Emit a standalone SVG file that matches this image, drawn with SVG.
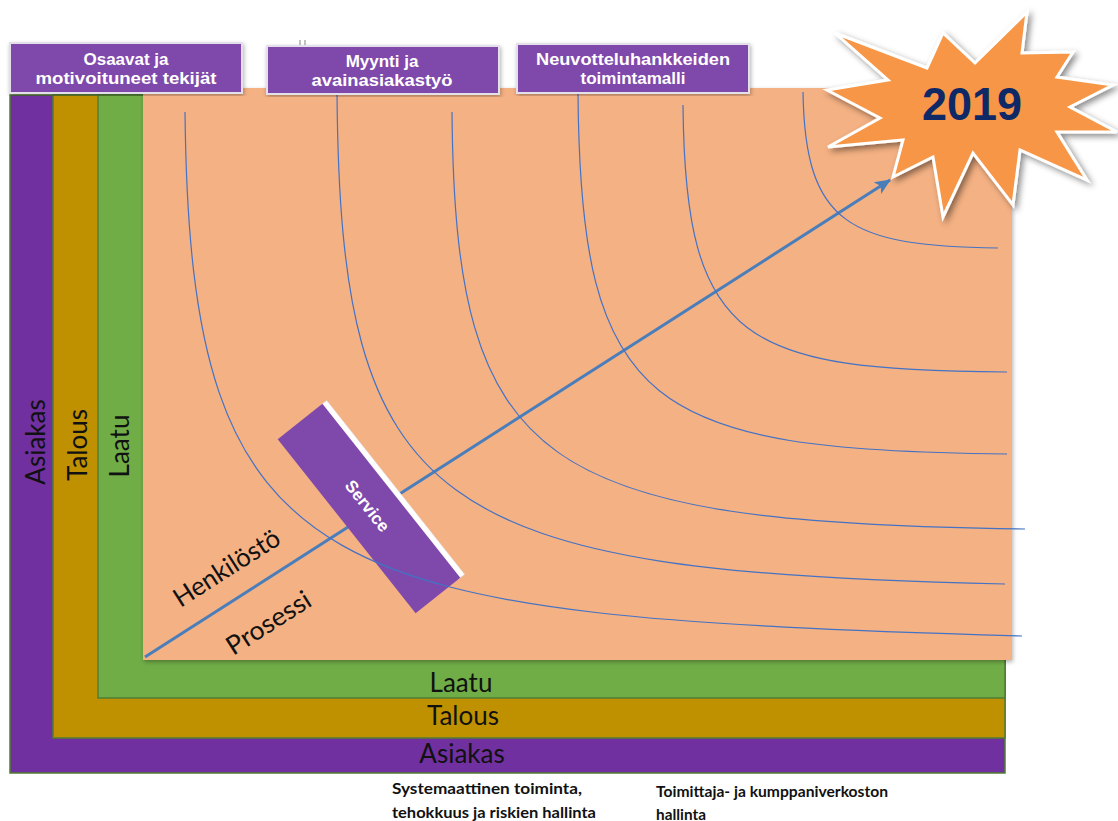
<svg xmlns="http://www.w3.org/2000/svg" width="1118" height="821" viewBox="0 0 1118 821">
<defs>
<style>
.band{stroke:#507E32;stroke-width:1.5}
.lbl{font-family:Lato,"Liberation Sans",sans-serif;font-size:26px;fill:#111}
.box{fill:#7F49AC;stroke:#E4E0EA;stroke-width:2}
.boxt{font-family:"Liberation Sans",Arial,sans-serif;font-weight:bold;font-size:17px;fill:#fff;text-anchor:middle}
.curve{fill:none;stroke:#4472C4;stroke-width:1.2}
.note{font-family:Lato,"Liberation Sans",sans-serif;font-weight:bold;font-size:15px;fill:#111}
</style>
<filter id="sh" x="-20%" y="-20%" width="140%" height="140%">
<feDropShadow dx="3" dy="3" stdDeviation="3" flood-color="#000" flood-opacity="0.45"/>
</filter>
<filter id="sh2" x="-5%" y="-5%" width="110%" height="110%">
<feDropShadow dx="1" dy="2" stdDeviation="2" flood-color="#000" flood-opacity="0.3"/>
</filter>
<marker id="ah" markerUnits="userSpaceOnUse" markerWidth="18" markerHeight="16" refX="15" refY="8" orient="auto">
<path d="M0,1 L16,8 L0,15 L4,8 Z" fill="#4A7EBB"/>
</marker>
</defs>

<g id="band-asiakas">
<rect class="band" x="10" y="95" width="995" height="678" fill="#7030A0"/>
<text class="lbl" transform="translate(35,442) rotate(-90)" text-anchor="middle" dominant-baseline="central">Asiakas</text>
<text class="lbl" x="462" y="763" text-anchor="middle">Asiakas</text>
</g>
<g id="band-talous">
<rect class="band" x="53" y="95" width="952" height="643" fill="#BF9000"/>
<text class="lbl" transform="translate(77,445) rotate(-90)" text-anchor="middle" dominant-baseline="central">Talous</text>
<text class="lbl" x="463" y="725" text-anchor="middle">Talous</text>
</g>
<g id="band-laatu">
<rect class="band" x="98" y="95" width="907" height="603" fill="#70AD47"/>
<text class="lbl" transform="translate(119,446) rotate(-90)" text-anchor="middle" dominant-baseline="central">Laatu</text>
<text class="lbl" x="461" y="692" text-anchor="middle">Laatu</text>
</g>
<g id="field">
<rect x="143" y="88" width="869" height="572" fill="#F4B183" filter="url(#sh2)"/>
</g>

<g id="connectors">
<line x1="145" y1="657" x2="890" y2="180" stroke="#4A7EBB" stroke-width="3" marker-end="url(#ah)"/>
</g>

<g id="service">
<g transform="translate(369,508.5) rotate(51.6)">
<rect x="-111" y="-34" width="222" height="8" fill="#fff" stroke="#ddd" stroke-width="0.5"/>
<rect x="-111" y="-28.5" width="222" height="57" fill="#7F49AC"/>
<text x="-3" y="0" font-family="'Liberation Sans',Arial,sans-serif" font-weight="bold" font-size="17" fill="#fff" text-anchor="middle" dominant-baseline="central">Service</text>
</g>
</g>

<g id="curves">
<path class="curve" d="M185,112 C190,590 320,615 1022,636"/>
<path class="curve" d="M337,92 C340,510 430,572 1005,584"/>
<path class="curve" d="M452,112 C455,470 540,522 1025,529"/>
<path class="curve" d="M578,92 C580,410 650,450 1007,454"/>
<path class="curve" d="M683,105 C685,345 745,370 1007,372"/>
<path class="curve" d="M803,92 C805,225 850,246 998,248"/>
</g>

<g id="label-osaavat">
<rect class="box" x="10" y="43" width="232" height="50" filter="url(#sh2)"/>
<text class="boxt" x="126" y="65">Osaavat ja</text>
<text class="boxt" x="126" y="84" textLength="181" lengthAdjust="spacingAndGlyphs">motivoituneet tekijät</text>
</g>
<g id="label-myynti">
<rect class="box" x="267" y="46" width="232" height="48" filter="url(#sh2)"/>
<text class="boxt" x="382" y="67">Myynti ja</text>
<text class="boxt" x="382" y="86" textLength="141" lengthAdjust="spacingAndGlyphs">avainasiakastyö</text>
<path d="M300,40 L300,45 M305,40 L305,45" stroke="#999" stroke-width="1.2"/>
</g>
<g id="label-neuvottelu">
<rect class="box" x="517" y="44" width="232" height="49" filter="url(#sh2)"/>
<text class="boxt" x="633" y="65" textLength="194" lengthAdjust="spacingAndGlyphs">Neuvotteluhankkeiden</text>
<text class="boxt" x="633" y="84">toimintamalli</text>
</g>

<g id="axis-labels">
<text class="lbl" transform="translate(226,567) rotate(-32.6)" text-anchor="middle" dominant-baseline="central" textLength="121" lengthAdjust="spacingAndGlyphs">Henkilöstö</text>
<text class="lbl" transform="translate(268,622) rotate(-32.6)" text-anchor="middle" dominant-baseline="central" textLength="95" lengthAdjust="spacingAndGlyphs">Prosessi</text>
</g>

<g id="star-2019">
<polygon points="835,33 888,80 827,90 880,118 828,147 903,140 893,177 933,157 943,217 973,153 1013,205 1020,150 1087,180 1057,132 1117,132 1070,107 1113,85 1057,77 1073,52 1022,53 1027,12 975,63 943,33 927,68" fill="#F79646" stroke="#fff" stroke-width="3" stroke-linejoin="miter" filter="url(#sh)"/>
<text x="972" y="120" font-family="'Liberation Sans',Arial,sans-serif" font-weight="bold" font-size="46" fill="#0F2866" text-anchor="middle" textLength="100" lengthAdjust="spacingAndGlyphs">2019</text>
</g>

<g id="notes">
<text class="note" x="392" y="794" textLength="190" lengthAdjust="spacingAndGlyphs">Systemaattinen toiminta,</text>
<text class="note" x="392" y="818" textLength="204" lengthAdjust="spacingAndGlyphs">tehokkuus ja riskien hallinta</text>
<text class="note" x="656" y="797" textLength="232" lengthAdjust="spacingAndGlyphs">Toimittaja- ja kumppaniverkoston</text>
<text class="note" x="656" y="820" textLength="50" lengthAdjust="spacingAndGlyphs">hallinta</text>
</g>
</svg>
